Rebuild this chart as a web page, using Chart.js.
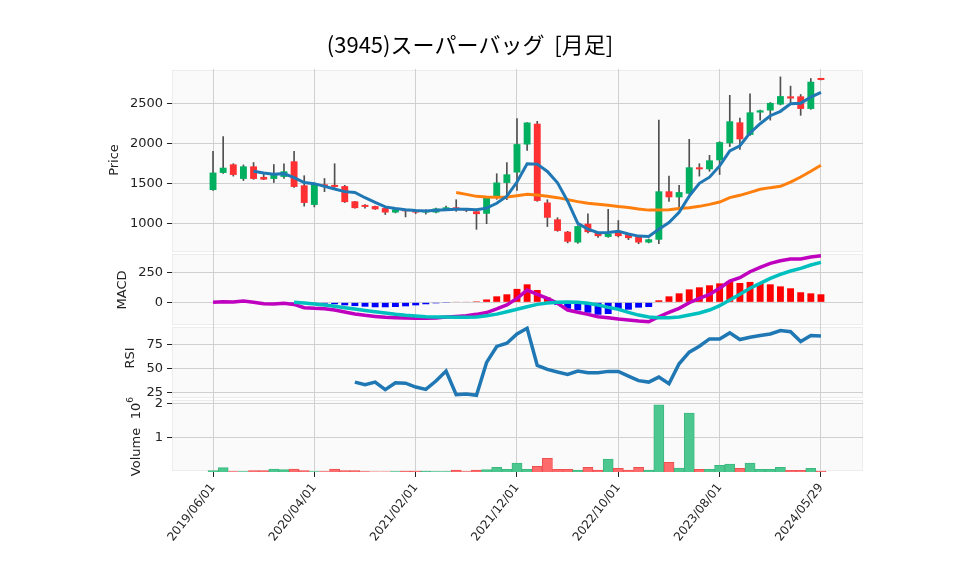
<!DOCTYPE html>
<html>
<head>
<meta charset="utf-8">
<script src="https://cdn.jsdelivr.net/npm/chart.js@4"></script>
<style>
  html, body { margin: 0; padding: 0; background: #fff; }
</style>
</head>
<body>
<canvas id="myChart" width="958" height="575"></canvas>
<script>
// monthly bars, index 0 = 2019/06 ... 60 = 2024/05
const tickIdx = [0, 10, 20, 30, 40, 50, 60];
const tickLabels = ['2019/06/01', '2020/04/01', '2021/02/01', '2021/12/01', '2022/10/01', '2023/08/01', '2024/05/29'];

const open  = [1416,1630,1737,1555,1712,1580,1555,1580,1775,1475,1230,1487,1480,1465,1275,1215,1215,1190,1135,1170,1155,1135,1135,1162,1200,1180,1150,1120,1320,1505,1635,1985,2245,1260,1050,895,760,995,880,830,885,860,830,760,795,1400,1325,1370,1700,1675,1787,2000,2262,2105,2385,2410,2485,2587,2587,2430,2808];
const high  = [1900,2085,1745,1730,1760,1620,1735,1745,1900,1595,1500,1560,1745,1475,1275,1235,1215,1195,1180,1175,1160,1170,1190,1215,1295,1185,1155,1325,1620,1760,2310,2260,2275,1295,1070,900,970,1120,890,1175,1035,865,835,805,2290,1590,1475,2050,1745,1850,2020,2600,2315,2620,2415,2510,2830,2715,2610,2810,2808];
const low   = [1410,1625,1590,1535,1550,1545,1510,1560,1450,1215,1205,1395,1450,1260,1190,1190,1175,1110,1130,1080,1120,1115,1130,1160,1150,1145,925,995,1300,1295,1410,1910,1275,960,900,755,750,880,825,825,830,795,745,755,745,1275,1205,1365,1590,1650,1610,1960,1925,2100,2290,2290,2480,2500,2350,2425,2792];
const close = [1634,1695,1605,1712,1555,1547,1620,1650,1455,1255,1495,1455,1455,1265,1190,1205,1175,1135,1175,1150,1135,1165,1185,1200,1170,1160,1115,1320,1510,1612,1990,2260,1280,1070,905,770,965,890,840,870,840,815,760,800,1400,1325,1390,1700,1675,1787,2015,2275,2050,2387,2412,2505,2590,2560,2430,2770,2792];

const ma5  = [null,null,null,null,1650,1629,1612,1621,1571,1509,1496,1462,1429,1396,1385,1320,1262,1205,1185,1170,1160,1154,1162,1170,1175,1175,1170,1190,1250,1340,1516,1745,1740,1648,1506,1277,1000,928,883,885,902,866,840,835,925,1010,1138,1340,1500,1577,1718,1905,1970,2130,2245,2345,2400,2495,2502,2577,2638];
const ma25 = [null,null,null,null,null,null,null,null,null,null,null,null,null,null,null,null,null,null,null,null,null,null,null,null,1384,1362,1337,1329,1325,1329,1346,1362,1354,1337,1321,1296,1271,1250,1237,1225,1210,1198,1180,1165,1165,1171,1184,1196,1212,1237,1266,1321,1350,1387,1425,1446,1462,1516,1579,1650,1725];

const macd   = [0,5,2,11,0,-12,-14,-8,-17,-45,-50,-53,-64,-81,-97,-108,-117,-125,-128,-131,-133,-133,-131,-122,-117,-112,-100,-85,-55,-22,33,102,67,33,-8,-64,-83,-100,-120,-128,-139,-147,-156,-162,-120,-83,-50,-3,33,67,117,177,205,255,292,325,347,361,361,377,388];
const signal = [null,null,null,null,null,null,null,null,0,-6,-14,-22,-33,-45,-56,-67,-78,-89,-100,-108,-114,-120,-122,-122,-125,-125,-122,-112,-98,-78,-58,-37,-17,-6,0,2,0,-8,-22,-42,-58,-83,-106,-122,-128,-128,-122,-106,-89,-64,-28,19,67,117,158,200,233,261,283,311,333];
const hist   = [null,null,null,null,null,null,null,null,-1,-3,-8,-11,-16,-25,-31,-36,-41,-41,-39,-33,-25,-16,-8,-2,5,5,8,24,50,67,112,150,103,41,-20,-53,-67,-86,-103,-97,-58,-61,-44,-39,17,50,75,108,125,142,158,175,161,170,158,150,133,117,84,75,67];

const rsi = [null,null,null,null,null,null,null,null,null,null,null,null,null,null,35.7,33,35.7,27.8,35,34.6,30.5,28.1,36.8,47.2,22.6,23.3,21.9,56.3,73,76.4,86.1,92,53.1,49,46.2,43.8,47.2,45.5,45.5,46.9,46.9,42,37.2,35.7,40.9,34,54.9,67,73.3,80.9,80.9,87.2,80.2,82.6,84.4,86.1,89.6,88.5,78.1,84.4,84];

const volume = [39000,127000,10000,10000,39000,39000,88000,69000,88000,39000,10000,10000,88000,39000,39000,10000,5000,5000,10000,29000,29000,29000,10000,10000,59000,10000,59000,70000,135000,77000,260000,77000,163000,394000,77000,77000,58000,135000,58000,375000,106000,58000,135000,58000,1950000,279000,115000,1710000,77000,77000,192000,231000,106000,260000,77000,77000,135000,48000,48000,106000,29000];

const priceTicks = [1000, 1500, 2000, 2500];
const macdTicks = [0, 250];
const rsiTicks = [25, 50, 75];
const volTicks = [1000000, 2000000];

const idx = close.map((_, i) => i);
const up = idx.map(i => close[i] >= open[i]);
const pts = arr => idx.map(i => ({ x: i, y: arr[i] }));

const tickFont = { family: 'DejaVu Sans', size: 13 };
const gridOpt = { color: '#d0d0d0', tickColor: '#222', tickLength: 5 };

function yScale(weight, stackWeight, min, max, ticks, cb) {
    return {
        type: 'linear', position: 'left', stack: 'panels', stackWeight: stackWeight, weight: weight,
        min: min, max: max,
        grid: gridOpt,
        border: { display: false },
        afterBuildTicks: s => { s.ticks = ticks.map(v => ({ value: v })); },
        afterFit: s => { s.width = 172; },
        ticks: { font: tickFont, color: '#222', padding: 4, callback: cb || (v => v) }
    };
}

// panel backgrounds
const panelBg = {
    id: 'panelBg',
    beforeDraw(chart) {
        const { ctx, chartArea } = chart;
        ctx.save();
        ['yP', 'yM', 'yR', 'yV'].forEach(id => {
            const s = chart.scales[id];
            ctx.fillStyle = '#fafafa';
            ctx.fillRect(chartArea.left, s.top + 1, chartArea.width, s.height - 2);
            ctx.strokeStyle = '#ececec';
            ctx.lineWidth = 1;
            ctx.strokeRect(chartArea.left + 0.5, s.top + 1.5, chartArea.width - 1, s.height - 3);
        });
        ctx.restore();
    }
};

// title and axis names
const texts = {
    id: 'texts',
    afterDraw(chart) {
        const ctx = chart.ctx;
        ctx.save();
        ctx.fillStyle = '#000';
        ctx.textAlign = 'center';
        ctx.textBaseline = 'middle';
        ctx.font = '22px "Noto Sans CJK JP"';
        ctx.fillText('(3945)スーパーバッグ  [月足]', 470, 45);

        const side = (txt, x, y, size) => {
            ctx.save();
            ctx.translate(x, y);
            ctx.rotate(-Math.PI / 2);
            ctx.font = size + 'px "DejaVu Sans"';
            ctx.fillStyle = '#222';
            ctx.fillText(txt, 0, 0);
            ctx.restore();
        };
        side('Price', 115, 160, 13);
        side('MACD', 123, 290, 13);
        side('RSI', 131, 358, 13);
        side('Volume', 137, 452, 13);
        side('10', 137, 411, 13);
        side('6', 131, 400, 9);
        ctx.restore();
    }
};

const ctx = document.getElementById('myChart').getContext('2d');

const myChart = new Chart(ctx, {
    type: 'bar',
    data: {
        datasets: [
            // wicks
            {
                type: 'bar', data: idx.map(i => ({ x: i, y: [low[i], high[i]] })), yAxisID: 'yP',
                backgroundColor: '#505050', barThickness: 1, grouped: false, order: 5
            },
            // bodies
            {
                type: 'bar', data: idx.map(i => ({ x: i, y: [open[i], close[i]] })), yAxisID: 'yP',
                backgroundColor: idx.map(i => up[i] ? '#00b060' : '#fe3032'),
                barPercentage: 0.68, categoryPercentage: 1, grouped: false, minBarLength: 2, order: 4
            },
            {
                type: 'line', data: pts(ma25), yAxisID: 'yP', borderColor: '#ff7f0e', borderWidth: 3,
                pointRadius: 0, tension: 0, order: 2
            },
            {
                type: 'line', data: pts(ma5), yAxisID: 'yP', borderColor: '#1f77b4', borderWidth: 3,
                pointRadius: 0, tension: 0, order: 1
            },
            // MACD
            {
                type: 'bar', data: pts(hist), yAxisID: 'yM',
                backgroundColor: idx.map(i => hist[i] >= 0 ? '#ff0000' : '#0000ff'),
                barPercentage: 0.68, categoryPercentage: 1, grouped: false, order: 4
            },
            {
                type: 'line', data: pts(macd), yAxisID: 'yM', borderColor: '#bf00bf', borderWidth: 3.5,
                pointRadius: 0, tension: 0, order: 2
            },
            {
                type: 'line', data: pts(signal), yAxisID: 'yM', borderColor: '#00bfbf', borderWidth: 3.5,
                pointRadius: 0, tension: 0, order: 1
            },
            // RSI
            {
                type: 'line', data: pts(rsi), yAxisID: 'yR', borderColor: '#1f77b4', borderWidth: 3.5,
                pointRadius: 0, tension: 0, order: 1
            },
            // Volume
            {
                type: 'bar', data: pts(volume), yAxisID: 'yV',
                backgroundColor: idx.map(i => up[i] ? '#4dc790' : '#fd6b6c'),
                borderColor: idx.map(i => up[i] ? '#3bb87f' : '#f04f50'),
                borderWidth: 1, barPercentage: 1, categoryPercentage: 1, grouped: false, order: 4
            }
        ]
    },
    options: {
        responsive: false,
        animation: false,
        layout: { padding: { top: 69, right: 95, left: 0, bottom: 0 } },
        plugins: { legend: { display: false }, tooltip: { enabled: false }, title: { display: false } },
        scales: {
            x: {
                type: 'linear', min: -4.05, max: 64.15, offset: false,
                grid: { offset: false, color: '#d0d0d0', tickColor: '#222', tickLength: 5 },
                border: { display: false },
                afterBuildTicks: s => { s.ticks = tickIdx.map(v => ({ value: v })); },
                afterFit: s => { s.height = 103; },
                ticks: {
                    autoSkip: false, minRotation: 52, maxRotation: 52,
                    font: { family: 'DejaVu Sans', size: 12 }, color: '#222', padding: 4,
                    callback: (v, i) => tickLabels[i]
                }
            },
            yP: yScale(4, 184, 629, 2929, priceTicks),
            yM: yScale(3, 73, -197, 411, macdTicks),
            yR: yScale(2, 73, 18, 94.4, rsiTicks),
            yV: yScale(1, 73, 0, 2120000, volTicks, v => v / 1000000)
        }
    },
    plugins: [panelBg, texts]
});
</script>
</body>
</html>
